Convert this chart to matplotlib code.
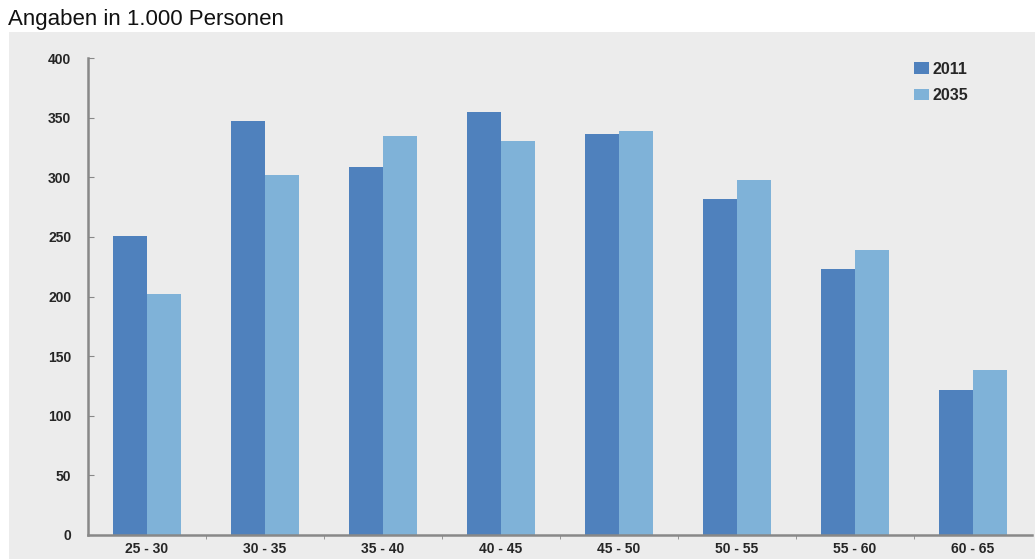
import numpy as np
import matplotlib.pyplot as plt
from matplotlib.patches import Rectangle

plt.rcParams['font.family'] = ['Liberation Sans', 'DejaVu Sans']

# Altersgruppen und Personen in Tausend
age_groups = ["25 - 30", "30 - 35", "35 - 40", "40 - 45", "45 - 50", "50 - 55", "55 - 60", "60 - 65"]
persons_2011 = [251, 347, 309, 355, 336, 282, 223, 122]
persons_2035 = [202, 302, 335, 330, 339, 298, 239, 138]
y_ticks = [0, 50, 100, 150, 200, 250, 300, 350, 400]

color_2011 = "#4f81bd"
color_2035 = "#7fb2d8"
bg = "#ececec"
label_color = "#262626"

fig = plt.figure(figsize=(10.35, 5.59), dpi=100)
panel = Rectangle((9 / 1035, 0), 1, 1 - 32 / 559, transform=fig.transFigure,
                  facecolor=bg, edgecolor="none", zorder=-10)
fig.add_artist(panel)

ax = fig.add_axes([88 / 1035, 1 - 535 / 559, (1032 - 88) / 1035, (535 - 58) / 559])
ax.set_facecolor(bg)
ax.set_zorder(1)

x = np.arange(len(age_groups))
w = 0.285
ax.bar(x - w / 2, persons_2011, w, color=color_2011, label="2011", zorder=2)
ax.bar(x + w / 2, persons_2035, w, color=color_2035, label="2035", zorder=2)

ax.set_xlim(-0.5, len(age_groups) - 0.5)
ax.set_ylim(0, 400)
ax.set_yticks(y_ticks)
ax.set_yticklabels([str(v) for v in y_ticks], fontsize=10, color=label_color,
                   fontweight="semibold")
ax.tick_params(axis="y", direction="in", length=4, color="#888888", pad=12)

ax.set_xticks(x)
ax.set_xticklabels(age_groups, fontsize=10, color=label_color, fontweight="semibold")
ax.tick_params(axis="x", length=0, pad=5)
ax.set_xticks(np.arange(0.5, len(age_groups) - 0.5), minor=True)
ax.tick_params(axis="x", which="minor", direction="out", length=3, color="#888888")

for side in ["top", "right"]:
    ax.spines[side].set_visible(False)
for side in ["left", "bottom"]:
    ax.spines[side].set_color("#888888")
    ax.spines[side].set_linewidth(1.8)

leg = ax.legend(loc="upper left", bbox_to_anchor=(0.86, 1.022), frameon=False,
                prop={"size": 11.5, "weight": "bold"},
                handlelength=0.9, handleheight=0.75, handletextpad=0.25, labelspacing=0.7)
for t in leg.get_texts():
    t.set_color(label_color)

fig.text(8 / 1035, 1 - 20 / 559, "Angaben in 1.000 Personen", fontsize=16,
         va="center", ha="left", color="#111111")

fig.savefig("out.png", dpi=100, facecolor="white")
